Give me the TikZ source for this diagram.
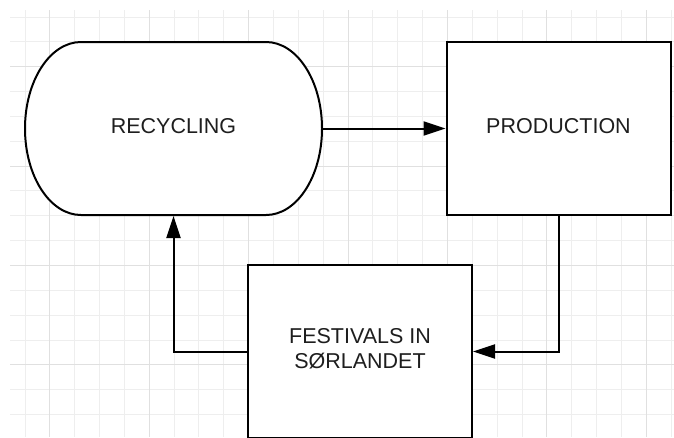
\documentclass[tikz,border=0pt]{standalone}
\usepackage{fontspec}
\setmainfont{Liberation Sans}
\usetikzlibrary{arrows.meta}
\definecolor{gridminor}{HTML}{EEEEEE}
\definecolor{gridmajor}{HTML}{E0E0E0}
\definecolor{inkline}{HTML}{000000}
\definecolor{inktext}{HTML}{1E1E1E}
\pgfdeclarelayer{gridlayer}
\pgfdeclarelayer{outlinelayer}
\pgfsetlayers{gridlayer,outlinelayer,main}
\tikzset{
  shapebox/.style={draw=inkline, line width=2pt, fill=white, rectangle,
    inner sep=0pt, text=inktext, align=center, text depth=6pt,
    font=\fontsize{21.5}{24.7}\selectfont},
  terminal/.style={shapebox, draw=none, fill=none, outer sep=0pt},
  outline/.style={draw=inkline, line width=2pt, fill=white},
  flow/.style={draw=inkline, line width=2pt, line join=miter,
    -{Triangle[length=22pt,width=14pt]}},
}
\begin{document}
\begin{tikzpicture}[x=1pt,y=-1pt]
  \useasboundingbox (0,0) rectangle (674,437);
  \begin{pgfonlayer}{gridlayer}
    \fill[white] (0,0) rectangle (674,437);
    % background grid: fine lines every 24.85, heavier every fourth line
    \begin{scope}
      \clip (10,10) rectangle (674,437);
      \foreach \k in {0,...,26} {
        \draw[gridminor, line width=1pt] ({25+\k*24.85},10) -- ({25+\k*24.85},437);
      }
      \foreach \k in {0,...,17} {
        \draw[gridminor, line width=1pt] (10,{17+\k*24.85}) -- (674,{17+\k*24.85});
      }
      \foreach \k in {1,5,...,25} {
        \draw[gridmajor, line width=1pt] ({25+\k*24.85},10) -- ({25+\k*24.85},437);
      }
      \foreach \k in {2,6,...,14} {
        \draw[gridmajor, line width=1pt] (10,{17+\k*24.85}) -- (674,{17+\k*24.85});
      }
    \end{scope}
  \end{pgfonlayer}

  % process blocks
  \node[terminal, minimum width=297pt, minimum height=173pt] (rec) at (173.5,128.5) {RECYCLING};
  \node[shapebox, minimum width=224pt, minimum height=173pt] (prod) at (558.5,128.5) {PRODUCTION};
  \node[shapebox, minimum width=224pt, minimum height=173pt] (fest) at (360,351.5) {FESTIVALS IN\\SØRLANDET};

  % terminator outline with half-elliptical ends
  \begin{pgfonlayer}{outlinelayer}
    \path[outline] ([xshift=56pt]rec.north west) -- ([xshift=-56pt]rec.north east)
      arc[start angle=90, end angle=-90, x radius=56pt, y radius=86.5pt]
      -- ([xshift=56pt]rec.south west)
      arc[start angle=270, end angle=90, x radius=56pt, y radius=86.5pt]
      -- cycle;
  \end{pgfonlayer}

  % material loop
  \draw[flow] (rec.east) -- (prod.west);
  \draw[flow] (prod.south) |- (fest.east);
  \draw[flow, shorten >=1pt] (fest.west) -| (rec.south);
\end{tikzpicture}
\end{document}
